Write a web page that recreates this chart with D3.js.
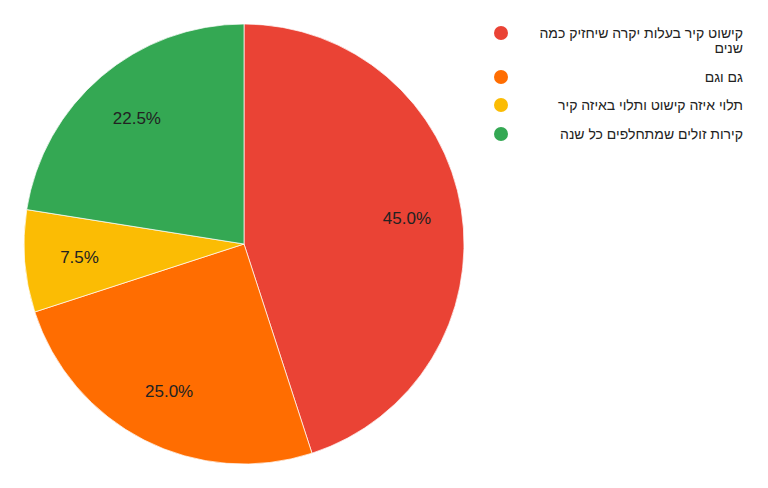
<!DOCTYPE html>
<html>
<head>
<meta charset="utf-8">
<script src="https://cdn.jsdelivr.net/npm/d3@7"></script>
<style>
  body { margin: 0; background: #fff; }
  svg { display: block; font-family: "Liberation Sans", Arial, sans-serif; }
</style>
</head>
<body>
<script>
var categories = [
  "קישוט קיר בעלות יקרה שיחזיק כמה שנים",
  "גם וגם",
  "תלוי איזה קישוט ותלוי באיזה קיר",
  "קירות זולים שמתחלפים כל שנה"
];
var values = [45.0, 25.0, 7.5, 22.5];
var colors = ["#ea4335", "#ff6d01", "#fbbc04", "#34a853"];
// legend lines, first one wraps
var legendLines = [
  ["קישוט קיר בעלות יקרה שיחזיק כמה", "שנים"],
  ["גם וגם"],
  ["תלוי איזה קישוט ותלוי באיזה קיר"],
  ["קירות זולים שמתחלפים כל שנה"]
];

var width = 768;
var height = 488;
var cx = 244, cy = 244, radius = 220;

var svg = d3.select('body')
  .append('svg')
  .attr('width', width)
  .attr('height', height);

var data = categories.map(function(c, i) {
  return { name: c, value: values[i], color: colors[i], lines: legendLines[i] };
});

var pie = d3.pie().sort(null).value(function(d) { return d.value; });
var arc = d3.arc().innerRadius(0).outerRadius(radius);
var labelArc = d3.arc().innerRadius(radius * 0.75).outerRadius(radius * 0.75);

var pieGroup = svg.append('g').attr('transform', 'translate(' + cx + ',' + cy + ')');

var slices = pie(data);

pieGroup.selectAll('path.slice')
  .data(slices)
  .enter().append('path')
  .attr('class', 'slice')
  .attr('d', arc)
  .attr('fill', function(d) { return d.data.color; })
  .attr('stroke', '#fff')
  .attr('stroke-width', 0.7);

pieGroup.selectAll('text.pct')
  .data(slices)
  .enter().append('text')
  .attr('class', 'pct')
  .attr('transform', function(d) { return 'translate(' + labelArc.centroid(d) + ')'; })
  .attr('text-anchor', 'middle')
  .attr('dy', '0.35em')
  .attr('font-size', 17)
  .attr('fill', '#222')
  .text(function(d) { return d3.format('.1f')(d.data.value) + '%'; });

// legend
var legendTops = [33, 77, 105, 134];

var legend = svg.append('g').attr('class', 'legend');

var items = legend.selectAll('g.item')
  .data(data)
  .enter().append('g')
  .attr('class', 'item')
  .attr('transform', function(d, i) { return 'translate(0,' + legendTops[i] + ')'; });

items.append('circle')
  .attr('cx', 501)
  .attr('cy', 0)
  .attr('r', 7)
  .attr('fill', function(d) { return d.color; });

items.each(function(d) {
  var t = d3.select(this).append('text')
    .attr('x', 743)
    .attr('y', 0)
    .attr('text-anchor', 'end')
    .attr('font-size', 14)
    .attr('fill', '#222');
  d.lines.forEach(function(line, j) {
    t.append('tspan')
      .attr('x', 743)
      .attr('dy', j === 0 ? '0.35em' : '15')
      .text(line);
  });
});
</script>
</body>
</html>
